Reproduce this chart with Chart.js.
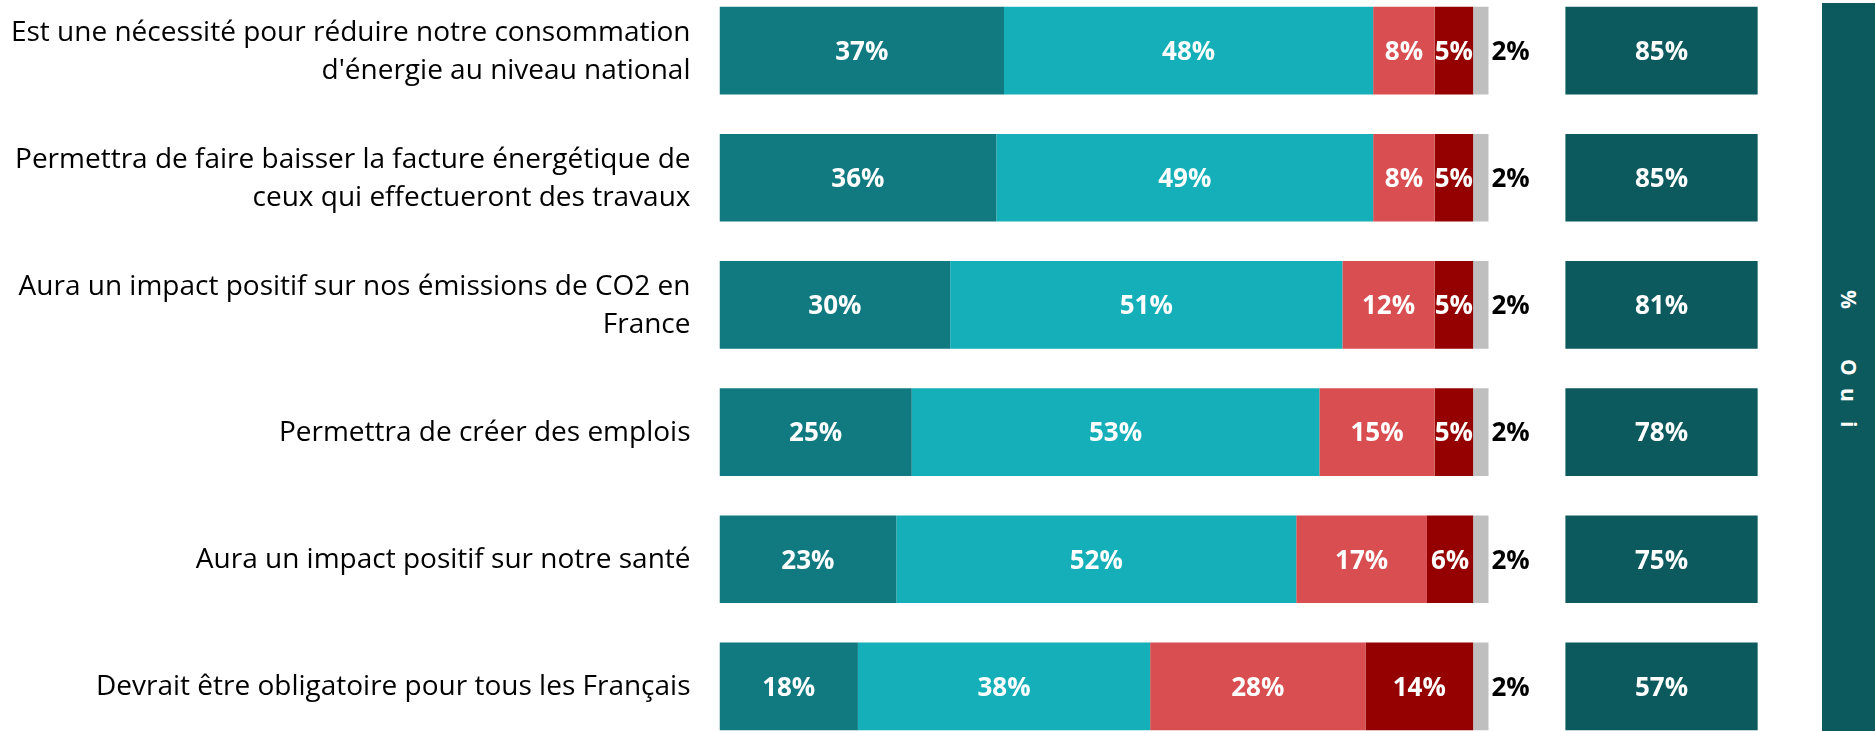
<!DOCTYPE html>
<html>
<head>
<meta charset="utf-8">
<script src="https://cdn.jsdelivr.net/npm/chart.js@4.4.0/dist/chart.umd.min.js"></script>
<style>
  html, body { margin: 0; padding: 0; background: #ffffff; overflow: hidden; width: 1875px; height: 731px; }
  #wrap { position: absolute; left: 0; top: -13px; width: 1875px; height: 763px; }
  #ouiBand {
    position: absolute; left: 1822px; top: 3px; width: 53px; height: 728px;
    background: #0C5A5D;
  }
  .vch {
    position: absolute; left: 0; width: 53px; height: 40px;
    color: #ffffff; font-family: "Open Sans", Lato, sans-serif; font-weight: bold; font-size: 21px;
    writing-mode: vertical-rl; text-align: center; line-height: 53px;
  }
</style>
</head>
<body>
<div id="wrap"><canvas id="c"></canvas></div>
<div id="ouiBand">
  <span class="vch" style="top:276px">%</span>
  <span class="vch" style="top:344px">O</span>
  <span class="vch" style="top:372px">u</span>
  <span class="vch" style="top:401px">i</span>
</div>
<script>
// ---- data ----
const categories = [
  ["Est une nécessité pour réduire notre consommation", "d'énergie au niveau national"],
  ["Permettra de faire baisser la facture énergétique de", "ceux qui effectueront des travaux"],
  ["Aura un impact positif sur nos émissions de CO2 en", "France"],
  "Permettra de créer des emplois",
  "Aura un impact positif sur notre santé",
  "Devrait être obligatoire pour tous les Français"
];
const ouiToutAFait = [37, 36, 30, 25, 23, 18];
const ouiPlutot    = [48, 49, 51, 53, 52, 38];
const nonPlutotPas = [8, 8, 12, 15, 17, 28];
const nonPasDuTout = [5, 5, 5, 5, 6, 14];
const nsp          = [2, 2, 2, 2, 2, 2];
const totalOui     = [85, 85, 81, 78, 75, 57];

// ---- build floating segments from the series ----
const series = [ouiToutAFait, ouiPlutot, nonPlutotPas, nonPasDuTout, nsp];
const colors = ['#117A80', '#14AFB8', '#D94E50', '#950000', '#BFBFBF'];
const cum = categories.map(() => 0);
const datasets = series.map((vals, si) => {
  const data = vals.map((v, i) => { const s = cum[i]; cum[i] += v; return [s, s + v]; });
  return {
    label: 's' + si, data, values: vals,
    backgroundColor: colors[si], borderWidth: 0,
    grouped: false, barPercentage: 0.69, categoryPercentage: 1,
    labelMode: si === 4 ? 'outside' : 'inside'
  };
});
const OUI_START = 110, OUI_END = 135;
datasets.push({
  label: 'oui', data: totalOui.map(() => [OUI_START, OUI_END]), values: totalOui,
  backgroundColor: '#0C5A5D', borderWidth: 0,
  grouped: false, barPercentage: 0.69, categoryPercentage: 1,
  labelMode: 'inside'
});

const labelPlugin = {
  id: 'segLabels',
  afterDatasetsDraw(chart) {
    const ctx = chart.ctx;
    ctx.save();
    ctx.font = 'bold 26px "Open Sans", Lato, sans-serif';
    ctx.textBaseline = 'middle';
    chart.data.datasets.forEach((ds, di) => {
      const meta = chart.getDatasetMeta(di);
      meta.data.forEach((el, i) => {
        const txt = ds.values[i] + '%';
        if (ds.labelMode === 'outside') {
          ctx.fillStyle = '#000000';
          ctx.textAlign = 'left';
          ctx.fillText(txt, Math.max(el.x, el.base) + 3, el.y + 2);
        } else {
          ctx.fillStyle = '#ffffff';
          ctx.textAlign = 'center';
          ctx.fillText(txt, (el.x + el.base) / 2, el.y + 2);
        }
      });
    });
    ctx.restore();
  }
};

new Chart(document.getElementById('c'), {
  type: 'bar',
  data: { labels: categories, datasets },
  options: {
    indexAxis: 'y',
    responsive: true,
    maintainAspectRatio: false,
    animation: false,
    layout: { padding: { left: 0, right: 2, top: 0, bottom: 0 } },
    plugins: { legend: { display: false }, tooltip: { enabled: false } },
    scales: {
      x: { display: false, min: 0, max: 150 },
      y: {
        grid: { display: false, drawTicks: false },
        border: { display: false },
        ticks: {
          color: '#000000', padding: 29, labelOffset: 1,
          font: { family: '"Open Sans", Lato, sans-serif', size: 28, lineHeight: 1.357 }
        },
        afterFit(scale) {
          scale.width = 719.5;
          scale.paddingTop = 0;
          scale.paddingBottom = 0;
        }
      }
    }
  },
  plugins: [labelPlugin]
});
</script>
</body>
</html>
